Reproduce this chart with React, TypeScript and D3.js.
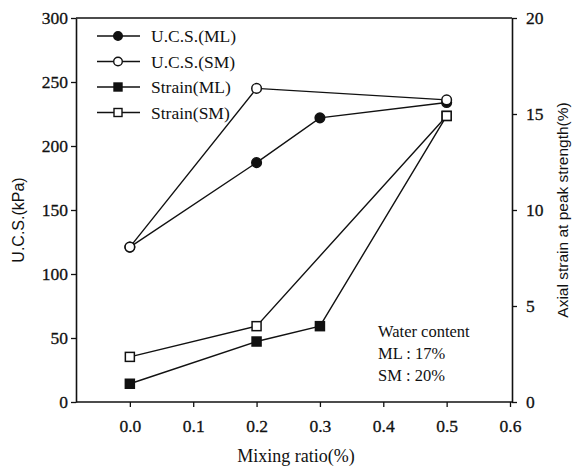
import { useEffect, useRef } from 'react';
import * as d3 from 'd3';

// mixing ratio (%) for each series
const ucsMlX = [0, 0.2, 0.3, 0.5];
const ucsMl = [121, 187, 222, 234];
const ucsSmX = [0, 0.2, 0.5];
const ucsSm = [121, 245, 236];
const strainMlX = [0, 0.2, 0.3, 0.5];
const strainMl = [0.95, 3.15, 3.95, 14.9];
const strainSmX = [0, 0.2, 0.5];
const strainSm = [2.35, 3.95, 14.9];

const xTicks = [0, 0.1, 0.2, 0.3, 0.4, 0.5, 0.6];
const leftTicks = [0, 50, 100, 150, 200, 250, 300];
const rightTicks = [0, 5, 10, 15, 20];
const legendLabels = ['U.C.S.(ML)', 'U.C.S.(SM)', 'Strain(ML)', 'Strain(SM)'];
const noteLines = ['Water content', 'ML : 17%', 'SM : 20%'];

const W = 579, H = 470;
const L = 76, R = 512, T = 18, B = 402;
const SERIF = '"Liberation Serif", "DejaVu Serif", serif';
const SANS = '"Liberation Sans", Arial, sans-serif';

export default function App() {
  const svgRef = useRef<SVGSVGElement>(null);

  useEffect(() => {
    if (!svgRef.current) return;
    const svg = d3.select(svgRef.current);
    svg.selectAll('*').remove();

    const x = d3.scaleLinear().domain([-0.085, 0.6]).range([L, 510]);
    const yL = d3.scaleLinear().domain([0, 300]).range([B, T]);
    const yR = d3.scaleLinear().domain([0, 20]).range([B, T]);

    // frame top
    svg.append('line').attr('x1', L).attr('x2', R).attr('y1', T).attr('y2', T)
      .attr('stroke', '#111').attr('stroke-width', 1.5);

    const ax = svg.append('g').attr('transform', `translate(0,${B})`)
      .call(d3.axisBottom(x).tickValues(xTicks).tickFormat(d3.format('.1f')).tickSize(5).tickSizeOuter(0));
    const al = svg.append('g').attr('transform', `translate(${L},0)`)
      .call(d3.axisLeft(yL).tickValues(leftTicks).tickSize(5).tickSizeOuter(0));
    const ar = svg.append('g').attr('transform', `translate(${R},0)`)
      .call(d3.axisRight(yR).tickValues(rightTicks).tickSize(5).tickSizeOuter(0));

    [ax, al, ar].forEach(a => {
      a.select('.domain').attr('stroke', '#111').attr('stroke-width', 1.6);
      a.selectAll('.tick line').attr('stroke', '#111').attr('stroke-width', 1.3);
      a.selectAll('.tick text').attr('font-family', SERIF).attr('font-size', 17.5)
        .attr('fill', '#111').attr('stroke', '#111').attr('stroke-width', 0.3);
    });
    ax.select('.domain').attr('d', `M${L},0H${R}`);
    ax.selectAll('.tick text').attr('y', 14).attr('dy', '0.9em');
    al.selectAll('.tick text').attr('x', -8);
    ar.selectAll('.tick text').attr('x', 14);

    // axis titles
    svg.append('text').attr('transform', `translate(24,${(T + B) / 2 + 10}) rotate(-90)`)
      .attr('text-anchor', 'middle').attr('font-family', SANS).attr('font-size', 16).attr('fill', '#111')
      .text('U.C.S.(kPa)');
    svg.append('text').attr('transform', `translate(568,${(T + B) / 2}) rotate(-90)`)
      .attr('text-anchor', 'middle').attr('font-family', SANS).attr('font-size', 15.5).attr('fill', '#111')
      .text('Axial strain at peak strength(%)');
    svg.append('text').attr('x', 296).attr('y', 462)
      .attr('text-anchor', 'middle').attr('font-family', SERIF).attr('font-size', 18).attr('fill', '#111')
      .text('Mixing ratio(%)');

    const line = (xs: number[], ys: number[], y: d3.ScaleLinear<number, number>) =>
      d3.line<number>().x((_, i) => x(xs[i])).y(d => y(d))(ys) ?? '';

    const series = [
      { xs: ucsMlX, ys: ucsMl, y: yL, shape: 'circle', fill: '#111' },
      { xs: strainMlX, ys: strainMl, y: yR, shape: 'square', fill: '#111' },
      { xs: strainSmX, ys: strainSm, y: yR, shape: 'square', fill: '#fff' },
      { xs: ucsSmX, ys: ucsSm, y: yL, shape: 'circle', fill: '#fff' },
    ];

    series.forEach(s => {
      svg.append('path').attr('d', line(s.xs, s.ys, s.y))
        .attr('fill', 'none').attr('stroke', '#111').attr('stroke-width', 1.4);
    });
    series.forEach(s => {
      s.ys.forEach((v, i) => {
        const cx = x(s.xs[i]), cy = s.y(v);
        if (s.shape === 'circle') {
          svg.append('circle').attr('cx', cx).attr('cy', cy).attr('r', 4.8)
            .attr('fill', s.fill).attr('stroke', '#111').attr('stroke-width', 1.5);
        } else {
          svg.append('rect').attr('x', cx - 4.5).attr('y', cy - 4.5).attr('width', 9).attr('height', 9)
            .attr('fill', s.fill).attr('stroke', '#111').attr('stroke-width', 1.5);
        }
      });
    });

    // legend
    const legendStyle = [
      { shape: 'circle', fill: '#111' },
      { shape: 'circle', fill: '#fff' },
      { shape: 'square', fill: '#111' },
      { shape: 'square', fill: '#fff' },
    ];
    legendLabels.forEach((lab, i) => {
      const ly = 36 + i * 25.5;
      const g = svg.append('g');
      g.append('line').attr('x1', 97).attr('x2', 140).attr('y1', ly).attr('y2', ly)
        .attr('stroke', '#111').attr('stroke-width', 1.4);
      if (legendStyle[i].shape === 'circle') {
        g.append('circle').attr('cx', 118).attr('cy', ly).attr('r', 4.3)
          .attr('fill', legendStyle[i].fill).attr('stroke', '#111').attr('stroke-width', 1.4);
      } else {
        g.append('rect').attr('x', 114).attr('y', ly - 4).attr('width', 8).attr('height', 8)
          .attr('fill', legendStyle[i].fill).attr('stroke', '#111').attr('stroke-width', 1.4);
      }
      g.append('text').attr('x', 151).attr('y', ly + 6).attr('font-family', SERIF).attr('font-size', 17.5)
        .attr('fill', '#111').text(lab);
    });

    noteLines.forEach((t, i) => {
      svg.append('text').attr('x', 378).attr('y', 337 + i * 22)
        .attr('font-family', SERIF).attr('font-size', 16.5).attr('fill', '#111').text(t);
    });
  }, []);

  return (
    <svg ref={svgRef} width={W} height={H}
      style={{ position: 'absolute', left: 0, top: 0, background: '#fff' }} />
  );
}
